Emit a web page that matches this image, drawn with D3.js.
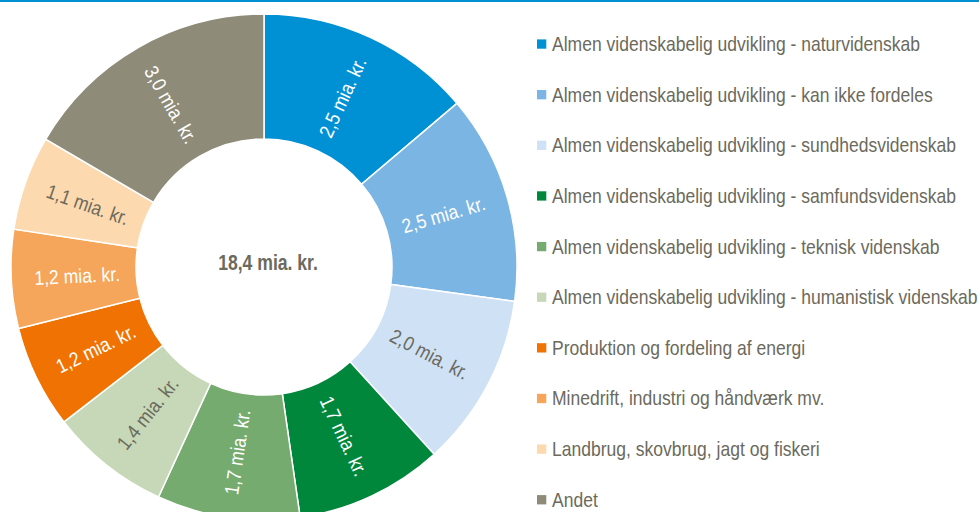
<!DOCTYPE html>
<html>
<head>
<meta charset="utf-8">
<script src="https://cdn.jsdelivr.net/npm/d3@7"></script>
<style>
  body { margin: 0; background: #fff; }
  svg { display: block; }
</style>
</head>
<body>
<div id="chart"></div>
<script>
// categories and values (mia. kr.)
var categories = [
  "Almen videnskabelig udvikling - naturvidenskab",
  "Almen videnskabelig udvikling - kan ikke fordeles",
  "Almen videnskabelig udvikling - sundhedsvidenskab",
  "Almen videnskabelig udvikling - samfundsvidenskab",
  "Almen videnskabelig udvikling - teknisk videnskab",
  "Almen videnskabelig udvikling - humanistisk videnskab",
  "Produktion og fordeling af energi",
  "Minedrift, industri og håndværk mv.",
  "Landbrug, skovbrug, jagt og fiskeri",
  "Andet"
];
var values = [2.54, 2.46, 2.04, 1.74, 1.68, 1.41, 1.21, 1.16, 1.11, 3.05];
var colors = ["#0091d5", "#7ab5e3", "#cfe1f5", "#00873c", "#76ab6f", "#c6d8b7",
              "#ef7203", "#f5a65b", "#fcd9ae", "#8e8b79"];
// label on light slices is dark, else white
var darkLabel = [false, false, true, false, false, true, false, false, true, false];

var width = 979, height = 512;
var cx = 264, cy = 267, outerR = 253, innerR = 128;
var textGrey = "#6b6a5d";
var font = "'Liberation Sans', Arial, sans-serif";
var narrow = 0.876; // squeeze to look like Arial Narrow

var fmt = function(v){ return d3.format(".1f")(v).replace(".", ",") + " mia. kr."; };

var data = categories.map(function(c, i){
  return {name: c, value: values[i], color: colors[i], dark: darkLabel[i]};
});

var svg = d3.select("#chart").append("svg")
  .attr("width", width)
  .attr("height", height)
  .style("font-family", font);

// thin blue rule at top
svg.append("rect")
  .attr("x", 0).attr("y", 0)
  .attr("width", width).attr("height", 2)
  .attr("fill", "#0091d5");

var pie = d3.pie().sort(null).value(function(d){ return d.value; });
var arc = d3.arc().innerRadius(innerR).outerRadius(outerR);

var g = svg.append("g").attr("transform", "translate(" + cx + "," + cy + ")");

var slices = g.selectAll(".slice")
  .data(pie(data))
  .enter().append("g").attr("class", "slice");

slices.append("path")
  .attr("d", arc)
  .attr("fill", function(d){ return d.data.color; })
  .attr("stroke", "#fff")
  .attr("stroke-width", 1.5);

var labelR = 187;
slices.append("text")
  .attr("transform", function(d){
    var mid = (d.startAngle + d.endAngle) / 2;
    var x = Math.sin(mid) * labelR, y = -Math.cos(mid) * labelR;
    var rot = mid * 180 / Math.PI - 90;
    if (rot > 90) rot -= 180;
    return "translate(" + x + "," + y + ") rotate(" + rot + ") scale(" + narrow + ",1)";
  })
  .attr("text-anchor", "middle")
  .attr("dy", "0.35em")
  .attr("font-size", "20px")
  .attr("fill", function(d){ return d.data.dark ? textGrey : "#fff"; })
  .text(function(d){ return fmt(d.data.value); });

// total in the middle
g.append("text")
  .attr("transform", "translate(4,-5) scale(0.8,1)")
  .attr("text-anchor", "middle")
  .attr("dy", "0.35em")
  .attr("font-size", "22px")
  .attr("font-weight", "bold")
  .attr("fill", textGrey)
  .text(fmt(d3.sum(values)));

// legend
var legendY = d3.scalePoint().domain(categories).range([44, 499.7]);
var legend = svg.append("g").selectAll(".leg")
  .data(data)
  .enter().append("g").attr("class", "leg")
  .attr("transform", function(d){ return "translate(537," + legendY(d.name) + ")"; });

legend.append("rect")
  .attr("x", 0).attr("y", -4.6)
  .attr("width", 9.3).attr("height", 9.3)
  .attr("fill", function(d){ return d.color; });

legend.append("text")
  .attr("transform", "translate(15,0) scale(" + narrow + ",1)")
  .attr("dy", "0.35em")
  .attr("font-size", "20px")
  .attr("fill", textGrey)
  .text(function(d){ return d.name; });
</script>
</body>
</html>
